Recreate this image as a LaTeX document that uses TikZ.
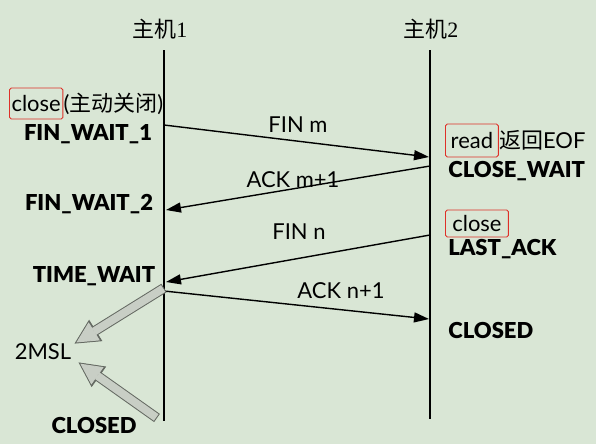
\documentclass[tikz,border=0pt]{standalone}
\usepackage{fontspec}
\setmainfont{Lato}
\newfontfamily\heavy{Lato Black}
\newfontfamily\cjk{Noto Sans CJK SC}
\newfontfamily\numserif{Liberation Serif}
\usetikzlibrary{arrows.meta,positioning}

\definecolor{bgcolor}{RGB}{217,230,213}
\definecolor{boxred}{RGB}{222,48,40}
\definecolor{blockfill}{RGB}{200,206,197}
\definecolor{blockline}{RGB}{100,105,98}

\tikzset{
  host/.style={font=\fontsize{12.5}{14}\selectfont, inner sep=0pt},
  state/.style={font=\fontsize{12.5}{14}\selectfont\heavy, inner sep=0pt},
  msg/.style={font=\fontsize{12.5}{14}\selectfont, inner sep=0pt},
  call/.style={draw=boxred, line width=0.5pt, rounded corners=1pt, inner xsep=1.2pt, inner ysep=0pt, font=\fontsize{12.5}{14}\selectfont},
  timeline/.style={line width=0.8pt},
  packet/.style={line width=0.8pt, -{Triangle[length=0.3cm, width=0.2cm]}},
  blockarrow/.style={draw=blockline, line width=0.2cm,
    -{Triangle[length=0.5cm, width=0.5cm, line width=0.5pt]},
    postaction={draw=blockfill, line width=0.16cm, shorten <=0.02cm, shorten >=0.045cm,
      -{Triangle[length=0.42cm, width=0.42cm, line width=0.5pt]}}}
}

\begin{document}
\begin{tikzpicture}[x=0.02cm, y=-0.02cm]
\fill[bgcolor] (0,0) rectangle (596,444);
\useasboundingbox (0,0) rectangle (596,444);

% hosts
\node[host] (host1) at (160,29) {{\cjk 主机}{\numserif 1}};
\node[host] (host2) at (431,29) {{\cjk 主机}{\numserif 2}};

\coordinate (h1top) at (164,50);
\coordinate (h1bot) at (164,421);
\coordinate (h2top) at (430,50);
\coordinate (h2bot) at (430,419);
\draw[timeline] (h1top) -- (h1bot);
\draw[timeline] (h2top) -- (h2bot);

% host 1 side
\node[call, anchor=west, minimum height=0.62cm] (close1) at (9,103.5) {close};
\node[msg, right=0pt of close1] (active) {({\cjk 主动关闭})};
\node[state] (finwait1) at (88,134) {FIN\_WAIT\_1};
\node[state] (finwait2) at (89,204) {FIN\_WAIT\_2};
\node[state] (timewait) at (94,276) {TIME\_WAIT};
\node[msg] (msl) at (43,352) {2MSL};
\node[state] (closed1) at (94,425) {CLOSED};

% host 2 side
\node[call, anchor=west, minimum height=0.66cm, inner xsep=3pt] (read) at (445,140.5) {read};
\node[msg, right=0pt of read] (eof) {{\cjk 返回}EOF};
\node[state, anchor=west] (closewait) at (448,171) {CLOSE\_WAIT};
\node[call, anchor=west, minimum height=0.54cm, minimum width=1.26cm] (close2) at (445,223.5) {close};
\node[state, anchor=west] (lastack) at (448,249) {LAST\_ACK};
\node[state, anchor=west] (closed2) at (448,330) {CLOSED};

% segments
\coordinate (finm1) at (164,125);
\coordinate (finm2) at (429,157);
\coordinate (ackm2) at (430,166);
\coordinate (ackm1) at (166,210);
\coordinate (finn2) at (430,235);
\coordinate (finn1) at (166,282);
\coordinate (ackn1) at (164,291);
\coordinate (ackn2) at (429,319);

\draw[packet] (finm1) -- (finm2);
\draw[packet] (ackm2) -- (ackm1);
\draw[packet] (finn2) -- (finn1);
\draw[packet] (ackn1) -- (ackn2);

\node[msg] (finmlabel) at (298,125) {FIN m};
\node[msg] (ackmlabel) at (293,180) {ACK m+1};
\node[msg] (finnlabel) at (299,232) {FIN n};
\node[msg] (acknlabel) at (341,291) {ACK n+1};

% 2MSL wait
\coordinate (twstart) at (164,288);
\coordinate (clstart) at (157,418);
\draw[blockarrow] (twstart) -- ([shift={(3,0)}]msl.north east);
\draw[blockarrow] (clstart) -- ([shift={(7,2)}]msl.south east);
\end{tikzpicture}
\end{document}
